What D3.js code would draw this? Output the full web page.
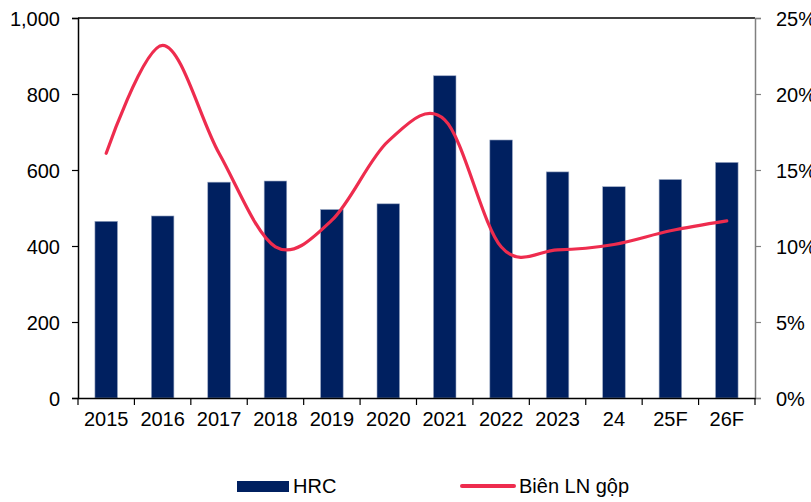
<!DOCTYPE html>
<html><head><meta charset="utf-8">
<script src="https://cdn.jsdelivr.net/npm/d3@7"></script>
<style>body{margin:0;background:#fff}svg{display:block}text{font-family:"Liberation Sans",Arial,sans-serif;fill:#000}</style>
</head><body>
<svg id="c" width="811" height="502"></svg>
<script>
const categories = ["2015","2016","2017","2018","2019","2020","2021","2022","2023","24","25F","26F"];
const hrc = [465,479,568,571,496,511,848,679,595,556,575,620];
const margin = [16.1,23.2,16.1,9.95,11.7,16.9,18.3,9.95,9.75,10.1,11.0,11.65];
const leftTicks = [0,200,400,600,800,1000];
const rightTicks = [0,5,10,15,20,25];

const svg = d3.select("#c");
const L = 78, R = 755, T = 18, B = 398;
const x = d3.scaleBand().domain(categories).range([L, R]).paddingInner(0.6).paddingOuter(0.3);
const xb = d3.scaleBand().domain(categories).range([L, R]);
const yL = d3.scaleLinear().domain([0,1000]).range([B, T]);
const yR = d3.scaleLinear().domain([0,25]).range([B, T]);

// bars
svg.append("g").selectAll("rect").data(categories).join("rect")
  .attr("x", d => x(d)).attr("width", x.bandwidth())
  .attr("y", (d,i) => yL(hrc[i])).attr("height", (d,i) => B - yL(hrc[i]))
  .attr("fill", "#002060").attr("stroke", "#9aa8c4").attr("stroke-width", 0.6);

// top border
svg.append("line").attr("x1", L).attr("x2", R).attr("y1", T).attr("y2", T).attr("stroke", "#000").attr("stroke-width", 1.5);

// left axis
const gl = svg.append("g").attr("transform", `translate(${L},0)`)
  .call(d3.axisLeft(yL).tickValues(leftTicks).tickFormat(d3.format(",")).tickSize(6).tickPadding(12));
gl.select(".domain").attr("stroke", "#000").attr("stroke-width", 1.5);
gl.selectAll(".tick line").attr("stroke", "#000").attr("stroke-width", 1.2);
gl.selectAll("text").style("font-size", "20px").attr("dy", "0.35em");

// right axis
const gr = svg.append("g").attr("transform", `translate(${R},0)`)
  .call(d3.axisRight(yR).tickValues(rightTicks).tickFormat(d => d + "%").tickSize(6).tickPadding(15));
gr.select(".domain").attr("stroke", "#808080").attr("stroke-width", 1.5);
gr.selectAll(".tick line").attr("stroke", "#808080").attr("stroke-width", 1.2);
gr.selectAll("text").style("font-size", "20px").attr("dy", "0.35em");

// bottom axis
const gb = svg.append("g").attr("transform", `translate(0,${B})`)
  .call(d3.axisBottom(xb).tickSize(0).tickPadding(14));
gb.select(".domain").attr("stroke", "#000").attr("stroke-width", 1.5);
gb.selectAll("text").style("font-size", "20px").attr("dy", "0.71em");
svg.append("g").selectAll("line").data(categories.concat(["end"])).join("line")
  .attr("x1", (d,i) => L + i * xb.step()).attr("x2", (d,i) => L + i * xb.step())
  .attr("y1", B).attr("y2", B + 7).attr("stroke", "#000").attr("stroke-width", 1.2);

// line
const line = d3.line().x((d,i) => xb(categories[i]) + xb.bandwidth()/2).y(d => yR(d)).curve(d3.curveCardinal.tension(0));
svg.append("path").datum(margin).attr("d", line).attr("fill", "none")
  .attr("stroke", "#EE2C4E").attr("stroke-width", 3.2).attr("stroke-linecap", "round");

// legend
svg.append("rect").attr("x", 237).attr("y", 481).attr("width", 52).attr("height", 11).attr("fill", "#002060");
svg.append("text").attr("x", 293).attr("y", 492.5).style("font-size", "20px").text("HRC");
svg.append("line").attr("x1", 462).attr("x2", 514).attr("y1", 486).attr("y2", 486).attr("stroke", "#EE2C4E").attr("stroke-width", 4).attr("stroke-linecap", "round");
svg.append("text").attr("x", 519).attr("y", 492.5).style("font-size", "20px").text("Biên LN gộp");
</script>
</body></html>
